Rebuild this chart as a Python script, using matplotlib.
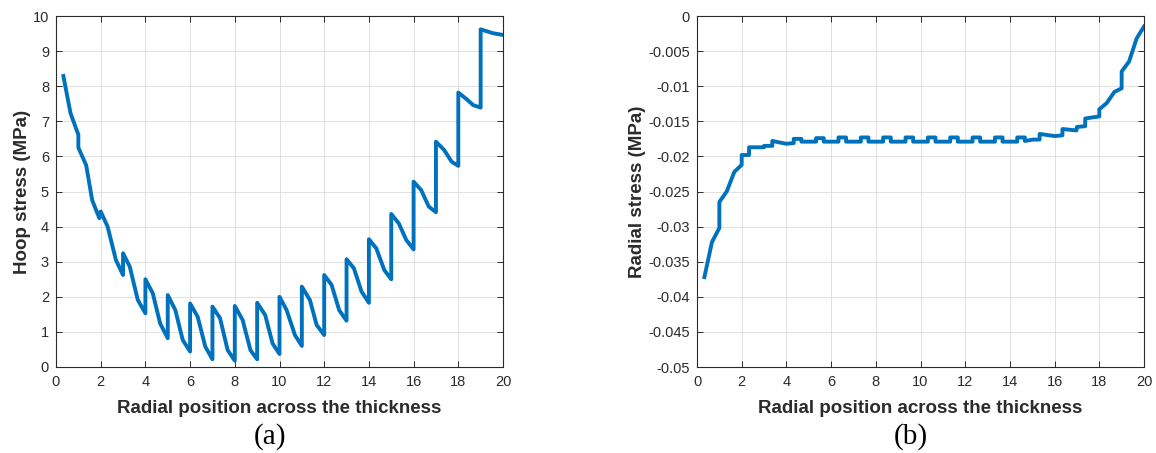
import matplotlib
matplotlib.use("Agg")
import matplotlib.pyplot as plt

# hoop stress, panel (a) - repeated x values are the jumps at each layer
hoop_x = [0.33, 0.65, 1.0, 1.0, 1.35, 1.62, 1.94, 2.0, 2.31, 2.68, 3.0, 3.0, 3.3, 3.66, 4.0, 4.0,
          4.33, 4.66, 5.0, 5.0, 5.34, 5.67, 6.0, 6.0, 6.34, 6.68, 7.0, 7.0, 7.34, 7.68, 8.0, 8.0,
          8.35, 8.7, 9.0, 9.0, 9.36, 9.69, 10.0, 10.0, 10.32, 10.69, 11.0, 11.0, 11.36, 11.66, 12.0, 12.0,
          12.33, 12.67, 13.0, 13.0, 13.33, 13.67, 14.0, 14.0, 14.33, 14.69, 15.0, 15.0, 15.34, 15.67,
          16.0, 16.0, 16.34, 16.68, 17.0, 17.0, 17.37, 17.7, 18.0, 18.0, 18.37, 18.67, 19.0, 19.0,
          19.55, 20.0]
hoop_y = [8.29, 7.23, 6.62, 6.25, 5.75, 4.75, 4.24, 4.43, 4.0, 3.05, 2.62, 3.24, 2.86, 1.91, 1.53, 2.5,
          2.1, 1.24, 0.82, 2.05, 1.62, 0.77, 0.44, 1.81, 1.43, 0.58, 0.22, 1.72, 1.39, 0.48, 0.18, 1.74,
          1.34, 0.48, 0.22, 1.83, 1.48, 0.67, 0.37, 2.0, 1.62, 0.91, 0.6, 2.29, 1.91, 1.2, 0.91, 2.62,
          2.34, 1.62, 1.32, 3.07, 2.81, 2.15, 1.83, 3.64, 3.38, 2.76, 2.5, 4.36, 4.09, 3.62,
          3.35, 5.28, 5.04, 4.57, 4.41, 6.42, 6.18, 5.85, 5.73, 7.82, 7.63, 7.46, 7.39, 9.62,
          9.51, 9.46]

# radial stress, panel (b)
rad_x = [0.33, 0.67, 1.0, 1.0, 1.33, 1.67, 2.0, 2.0, 2.33, 2.33, 3.0, 3.0, 3.37, 3.37, 3.67, 4.0,
         4.33, 4.33, 4.67, 4.67, 5.33, 5.33, 5.67, 5.67, 6.33, 6.33, 6.67, 6.67, 7.33, 7.33, 7.67, 7.67,
         8.33, 8.33, 8.67, 8.67, 9.33, 9.33, 9.67, 9.67, 10.33, 10.33, 10.67, 10.67, 11.33, 11.33, 11.67, 11.67,
         12.33, 12.33, 12.67, 12.67, 13.33, 13.33, 13.67, 13.67, 14.33, 14.33, 14.67, 14.67, 15.05,
         15.33, 15.33, 16.0, 16.35, 16.35, 16.98, 17.0, 17.37, 17.37, 18.0, 18.0, 18.33, 18.68,
         19.0, 19.0, 19.33, 19.67, 20.0]
rad_y = [-0.0372, -0.0322, -0.0302, -0.0265, -0.0250, -0.0222, -0.0212, -0.0198, -0.0198, -0.0187,
         -0.0187, -0.0185, -0.0185, -0.0178, -0.0180, -0.0182,
         -0.0181, -0.0175, -0.0175, -0.0179, -0.0179, -0.0174, -0.0174, -0.0179,
         -0.0179, -0.0173, -0.0173, -0.0179, -0.0179, -0.0173, -0.0173, -0.0179,
         -0.0179, -0.0173, -0.0173, -0.0179, -0.0179, -0.0173, -0.0173, -0.0179,
         -0.0179, -0.0173, -0.0173, -0.0179, -0.0179, -0.0173, -0.0173, -0.0179,
         -0.0179, -0.0173, -0.0173, -0.0179, -0.0179, -0.0173, -0.0173, -0.0179,
         -0.0179, -0.0173, -0.0173, -0.0178, -0.0176,
         -0.0176, -0.0168, -0.0171, -0.0170, -0.0161, -0.0163, -0.0158, -0.0157, -0.0146, -0.0143,
         -0.0133, -0.0124, -0.0108, -0.0103, -0.0079, -0.0065, -0.0032, -0.0015]

x_ticks = [0, 2, 4, 6, 8, 10, 12, 14, 16, 18, 20]
hoop_ticks = [0, 1, 2, 3, 4, 5, 6, 7, 8, 9, 10]
rad_ticks = [0, -0.005, -0.01, -0.015, -0.02, -0.025, -0.03, -0.035, -0.04, -0.045, -0.05]
rad_labels = ["0", "-0.005", "-0.01", "-0.015", "-0.02", "-0.025", "-0.03", "-0.035", "-0.04", "-0.045", "-0.05"]

dark = "#2b2b2b"
blue = "#0072BD"
plt.rcParams["font.family"] = "Liberation Sans"

fig = plt.figure(figsize=(11.56, 4.53), dpi=100)
ax1 = fig.add_axes([56/1156, 1-367/453, 447/1156, 351/453])
ax2 = fig.add_axes([697/1156, 1-367/453, 447/1156, 351/453])


def style(ax):
    ax.grid(True, color="#dcdcdc", linewidth=0.6)
    ax.set_axisbelow(True)
    ax.tick_params(direction="in", length=4, width=0.7, colors=dark, labelsize=10.5,
                   top=True, right=True)
    ax.tick_params(axis="x", pad=6)
    ax.tick_params(axis="y", pad=5)
    for s in ax.spines.values():
        s.set_color(dark)
        s.set_linewidth(0.8)
    ax.set_xlim(0, 20)
    ax.set_xticks(x_ticks)
    ax.set_xlabel("Radial position across the thickness", fontsize=13.5,
                  fontweight="bold", color=dark, labelpad=8)


ax1.plot(hoop_x, hoop_y, color=blue, linewidth=2.8)
style(ax1)
ax1.set_ylim(0, 10)
ax1.set_yticks(hoop_ticks)
ax1.set_ylabel("Hoop stress (MPa)", fontsize=13.5, fontweight="bold", color=dark, labelpad=1)

ax2.plot(rad_x, rad_y, color=blue, linewidth=2.8)
style(ax2)
ax2.set_ylim(-0.05, 0)
ax2.set_yticks(rad_ticks)
ax2.set_yticklabels(rad_labels)
ax2.set_ylabel("Radial stress (MPa)", fontsize=13.5, fontweight="bold", color=dark, labelpad=2)

fig.text(270/1156, 1-437/453, "(a)", family="Liberation Serif", fontsize=21,
         ha="center", va="center")
fig.text(911/1156, 1-437/453, "(b)", family="Liberation Serif", fontsize=21,
         ha="center", va="center")

fig.savefig("out.png", dpi=100)
